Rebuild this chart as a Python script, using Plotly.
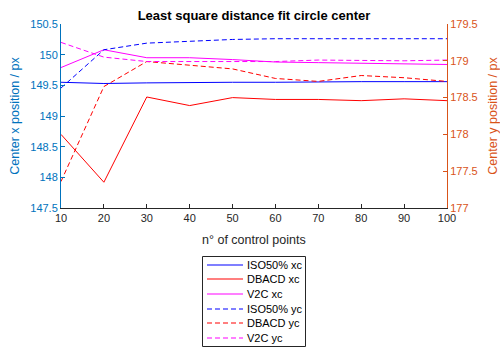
import plotly.graph_objects as go

n_points = [10, 20, 30, 40, 50, 60, 70, 80, 90, 100]

iso_xc = [149.55, 149.53, 149.54, 149.55, 149.55, 149.55, 149.56, 149.56, 149.56, 149.56]
dbacd_xc = [148.70, 147.92, 149.31, 149.17, 149.30, 149.27, 149.27, 149.25, 149.28, 149.25]
v2c_xc = [149.79, 150.08, 149.95, 149.95, 149.92, 149.88, 149.87, 149.86, 149.84, 149.84]

iso_yc = [178.63, 179.15, 179.24, 179.27, 179.29, 179.30, 179.30, 179.30, 179.30, 179.30]
dbacd_yc = [177.36, 178.65, 178.99, 178.94, 178.89, 178.76, 178.72, 178.80, 178.77, 178.72]
v2c_yc = [179.25, 179.05, 178.99, 178.99, 178.99, 178.99, 179.01, 179.00, 179.00, 179.01]

names = ["ISO50% xc", "DBACD xc", "V2C xc", "ISO50% yc", "DBACD yc", "V2C yc"]

LEFT = "#0072BD"
RIGHT = "#D95319"
DARK = "#262626"
FONT = "Liberation Sans, Arial, sans-serif"
DASH = "5px,3px"

# plot area in pixels
PL, PR, PT, PB = 61, 447, 24, 208
W, H = 500, 347


def px_x(p):
    return (p - PL) / (PR - PL)


def px_y(p):
    return (PB - p) / (PB - PT)


fig = go.Figure()
series = [
    (iso_xc, "#0000FF", "solid", "y"),
    (dbacd_xc, "#FF0000", "solid", "y"),
    (v2c_xc, "#FF00FF", "solid", "y"),
    (iso_yc, "#0000FF", "dash", "y2"),
    (dbacd_yc, "#FF0000", "dash", "y2"),
    (v2c_yc, "#FF00FF", "dash", "y2"),
]
shapes = []
annotations = []
# legend box
shapes.append(dict(type="rect", xref="paper", yref="paper",
                   x0=px_x(202.5), x1=px_x(305.5), y0=px_y(346.5), y1=px_y(256.5),
                   line=dict(color=DARK, width=1), fillcolor="white", layer="above"))
row_y = [265, 279, 294, 309, 323, 338]
for i, ((vals, col, dash, ax), nm) in enumerate(zip(series, names)):
    d = DASH if dash == "dash" else "solid"
    fig.add_trace(go.Scatter(
        x=n_points, y=vals, name=nm, mode="lines", yaxis=ax,
        line=dict(color=col, width=1, dash=d), showlegend=False,
    ))
    shapes.append(dict(type="line", xref="paper", yref="paper",
                       x0=px_x(207), x1=px_x(243), y0=px_y(row_y[i]), y1=px_y(row_y[i]),
                       line=dict(color=col, width=1.2, dash=d), layer="above"))
    annotations.append(dict(text=nm, xref="paper", yref="paper", x=px_x(245), y=px_y(row_y[i]),
                            xanchor="left", yanchor="middle", showarrow=False,
                            font=dict(size=11, color="black")))

annotations.append(dict(text="n° of control points", xref="paper", yref="paper",
                        x=0.5, y=px_y(240), xanchor="center", yanchor="middle", showarrow=False,
                        font=dict(size=12.5, color=DARK)))

fig.update_layout(
    width=W, height=H,
    margin=dict(l=PL, r=W - PR, t=PT, b=H - PB, autoexpand=False),
    paper_bgcolor="white", plot_bgcolor="white",
    font=dict(family=FONT, size=11, color=DARK),
    title=dict(text="<b>Least square distance fit circle center</b>",
               x=0.5, xref="paper", xanchor="center", y=1 - 15.5 / H, yref="container",
               yanchor="middle", font=dict(size=13, color="black")),
    xaxis=dict(range=[10, 100], dtick=10, tick0=10, showgrid=False, zeroline=False,
               showline=True, linecolor=DARK, linewidth=1, ticks="inside", ticklen=4,
               tickcolor=DARK, tickfont=dict(size=11, color=DARK), automargin=False),
    yaxis=dict(range=[147.5, 150.5], dtick=0.5, tick0=147.5, showgrid=False, zeroline=False,
               showline=True, linecolor=LEFT, linewidth=1, ticks="inside", ticklen=4,
               tickcolor=LEFT, tickfont=dict(size=11, color=LEFT), automargin=False,
               title=dict(text="Center x position / px", font=dict(size=12.5, color=LEFT), standoff=7)),
    yaxis2=dict(range=[177, 179.5], dtick=0.5, tick0=177, overlaying="y", side="right",
                showgrid=False, zeroline=False, showline=True, linecolor=RIGHT, linewidth=1,
                ticks="inside", ticklen=4, tickcolor=RIGHT, tickfont=dict(size=11, color=RIGHT),
                automargin=False,
                title=dict(text="Center y position / px", font=dict(size=12.5, color=RIGHT), standoff=14)),
    shapes=shapes,
    annotations=annotations,
    showlegend=False,
)

fig.write_html("out.html")
